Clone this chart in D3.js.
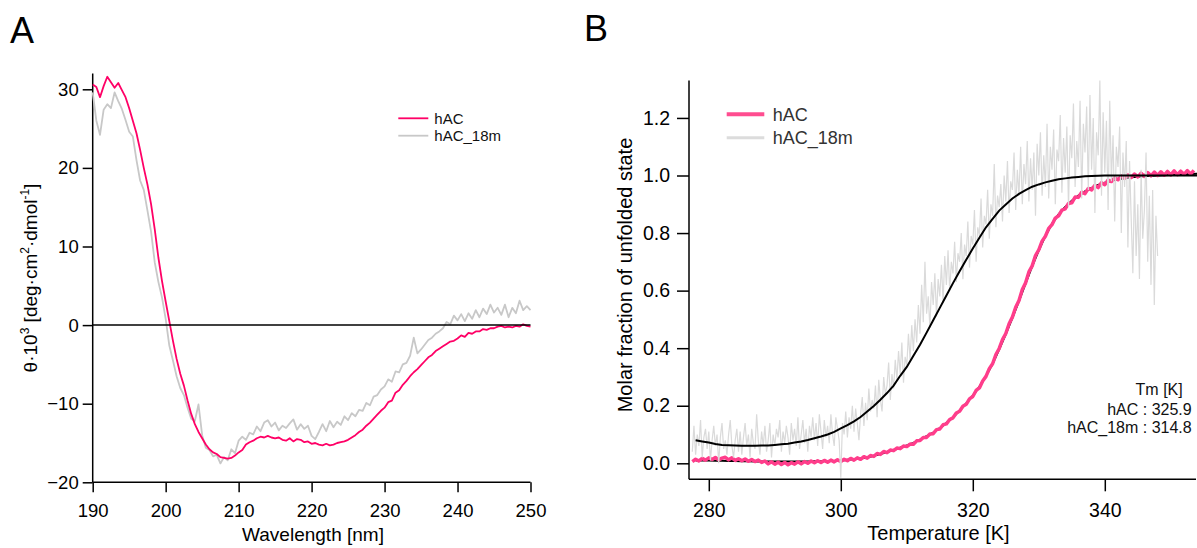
<!DOCTYPE html>
<html><head><meta charset="utf-8">
<script src="https://cdn.jsdelivr.net/npm/d3@7"></script>
<style>
body{margin:0;background:#fff}
svg{display:block}
text{font-family:"Liberation Sans",Arial,Helvetica,sans-serif}
</style>
</head><body>
<svg id="c" width="1197" height="548"></svg>
<script>
// ---------- Panel A data: CD spectra ----------
const cdStart = 190, cdStep = 0.5;   // wavelength grid [nm]
const cd_hAC = [
 30.6,30.3,29.0,30.4,31.6,30.9,30.2,30.8,29.9,29.0,
 27.6,26.0,24.4,22.3,20.0,17.9,15.4,12.2,8.6,5.6,
 3.0,0.5,-2.0,-4.3,-6.2,-7.7,-9.6,-11.3,-12.6,-13.6,
 -14.4,-15.2,-15.8,-16.2,-16.4,-16.8,-16.9,-17.0,-16.9,-16.6,
 -16.2,-15.9,-15.2,-14.9,-14.7,-14.4,-14.2,-14.3,-14.1,-14.3,
 -14.4,-14.3,-14.6,-14.7,-14.4,-14.8,-14.5,-14.6,-14.9,-14.8,
 -15.1,-15.0,-15.2,-15.3,-15.1,-15.3,-15.2,-15.0,-14.9,-14.8,
 -14.6,-14.3,-14.0,-13.6,-13.3,-12.8,-12.4,-11.9,-11.4,-10.9,
 -10.5,-9.8,-9.6,-8.6,-8.3,-7.6,-7.1,-6.5,-6.0,-5.6,
 -5.1,-4.6,-4.1,-3.8,-3.3,-3.0,-2.7,-2.4,-2.1,-2.0,
 -1.7,-1.3,-1.5,-1.0,-1.1,-0.8,-0.8,-0.5,-0.6,-0.4,
 -0.4,-0.2,-0.1,-0.3,-0.2,-0.3,-0.1,-0.2,0.1,-0.1,
 -0.2];
const cd_hAC18m = [
 29.6,26.0,24.2,27.4,28.1,27.6,29.6,28.5,27.5,26.1,
 24.6,24.0,21.0,18.4,17.2,14.6,11.9,8.0,5.5,3.5,
 0.8,-2.6,-4.5,-6.5,-8.0,-8.9,-10.5,-11.9,-12.2,-10.1,
 -14.0,-15.6,-15.9,-16.7,-16.5,-17.6,-16.8,-17.2,-15.8,-16.3,
 -14.7,-14.2,-14.6,-13.7,-13.9,-12.9,-13.5,-12.4,-12.1,-12.9,
 -12.4,-13.4,-12.8,-13.1,-12.5,-12.0,-13.3,-12.6,-13.2,-12.8,
 -14.1,-14.5,-13.6,-12.6,-13.5,-12.2,-13.0,-12.3,-12.7,-11.6,
 -12.1,-11.2,-11.6,-10.8,-10.9,-9.9,-10.2,-9.1,-8.9,-8.2,
 -7.8,-6.9,-7.2,-5.9,-6.0,-5.0,-4.8,-3.9,-1.6,-3.6,
 -3.1,-2.5,-1.9,-1.6,-1.1,-0.8,-0.4,0.4,0.1,1.2,
 0.6,1.4,0.5,1.5,0.8,1.9,1.0,2.1,1.4,2.6,
 1.6,2.2,1.3,2.6,1.0,2.2,1.5,3.1,1.9,2.4,
 1.9];
const cdXTicks = [190,200,210,220,230,240,250];
const cdYTicks = [-20,-10,0,10,20,30];

// ---------- Panel B data: thermal melting ----------
const mStart = 277.5, mStep = 0.5;    // hAC data grid [K]
const melt_hAC = [
 0.006,
 0.014,0.008,0.017,0.011,0.019,0.013,0.020,0.012,0.018,0.021,
 0.012,0.019,0.010,0.016,0.009,0.015,0.007,0.013,0.006,0.011,
 0.003,0.008,-0.002,0.005,-0.003,0.004,-0.004,0.003,-0.005,0.002,
 -0.003,0.005,-0.002,0.006,0.000,0.008,0.002,0.009,0.003,0.010,
 0.004,0.011,0.005,0.012,0.006,0.014,0.009,0.017,0.011,0.019,
 0.014,0.023,0.018,0.027,0.024,0.034,0.031,0.041,0.037,0.046,
 0.044,0.053,0.051,0.060,0.058,0.067,0.066,0.078,0.079,0.090,
 0.090,0.102,0.103,0.117,0.119,0.134,0.137,0.152,0.158,0.175,
 0.181,0.198,0.205,0.224,0.232,0.253,0.262,0.286,0.302,0.329,
 0.346,0.378,0.399,0.430,0.451,0.485,0.508,0.542,0.566,0.604,
 0.627,0.665,0.686,0.722,0.742,0.772,0.789,0.816,0.829,0.852,
 0.860,0.880,0.884,0.903,0.905,0.925,0.924,0.942,0.937,0.955,
 0.950,0.966,0.958,0.975,0.968,0.984,0.979,0.992,0.985,0.998,
 0.990,1.002,0.993,1.005,0.995,1.008,0.997,1.010,0.999,1.012,
 1.000,1.013,1.001,1.014,1.002,1.016,1.003,1.015,1.004,1.017,
 1.005,1.018];
const gStart = 277.5, gStep = 0.25;   // hAC_18m data grid [K]
const melt_hAC18m = [
 0.04,0.13,
 0.03,0.10,0.06,0.15, 0.02,0.09,0.12,0.05, 0.11,0.01,0.08,0.13, 0.06,0.10,0.00,0.09,
 0.14,0.05,0.08,0.03, 0.10,0.15,0.06,0.02, 0.08,0.12,0.04,0.11, 0.03,0.09,0.14,0.06,
 0.10,0.02,0.12,0.07, 0.05,0.17,0.08,0.03, 0.11,0.06,0.13,0.04, 0.08,0.14,0.02,0.10,
 0.06,0.12,0.09,0.15, 0.04,0.11,0.07,0.13, 0.09,0.03,0.14,0.08, 0.12,0.06,0.16,0.05,
 0.10,0.15,0.07,0.12, 0.04,0.13,0.09,0.16, 0.08,0.14,0.06,0.17, 0.11,0.05,0.15,0.09,
 0.13,0.07,0.17,0.10, 0.06,0.16,0.12,0.08, -0.05,0.14,0.10,0.18, 0.09,0.16,0.12,0.20,
 0.11,0.19,0.14,0.08, 0.17,0.23,0.13,0.21, 0.15,0.26,0.18,0.22, 0.19,0.27,0.16,0.29,
 0.22,0.18,0.30,0.24, 0.27,0.35,0.22,0.31, 0.26,0.36,0.29,0.39, 0.31,0.42,0.28,0.37,
 0.34,0.45,0.36,0.48, 0.39,0.50,0.42,0.55, 0.45,0.62,0.49,0.70, 0.52,0.58,0.47,0.63,
 0.55,0.66,0.51,0.64, 0.58,0.69,0.56,0.72, 0.62,0.74,0.60,0.70, 0.66,0.77,0.63,0.73,
 0.70,0.80,0.64,0.76, 0.72,0.84,0.68,0.79, 0.76,0.88,0.70,0.82, 0.79,0.92,0.75,0.86,
 0.83,0.95,0.78,0.90, 0.86,1.04,0.82,0.93, 0.89,0.97,0.84,1.00, 0.91,1.05,0.87,0.98,
 0.95,1.08,0.88,1.02, 0.93,1.10,0.90,1.04, 0.97,1.12,0.91,1.06, 0.95,1.08,0.86,1.11,
 1.00,1.15,0.93,1.07, 0.96,1.18,0.92,1.10, 1.02,1.16,0.90,1.09, 1.05,1.21,0.94,1.13,
 1.01,1.17,0.89,1.14, 1.06,1.25,0.96,1.12, 1.03,1.26,0.92,1.18, 1.08,1.24,0.95,1.28,
 1.02,1.20,0.87,1.15, 1.07,1.33,0.93,1.22, 1.01,1.19,0.88,1.26, 0.98,1.14,0.84,1.10,
 1.03,1.17,0.80,1.08, 0.96,1.12,0.75,1.05, 0.85,0.66,0.98,0.72, 0.90,0.64,1.02,0.78,
 0.88,1.08,0.70,0.93, 0.62,0.95,0.55,0.86,
 0.72];
const fStart = 278, fStep = 1;        // fit curves grid [K]
const fit_hAC = [
 0.010,0.010,0.010,0.009,0.009,0.008,0.008,0.007,0.007,0.006,
 0.006,0.006,0.006,0.006,0.006,0.006,0.006,0.006,0.007,0.007,
 0.008,0.008,0.009,0.012,0.014,0.017,0.020,0.026,0.032,0.039,
 0.046,0.054,0.062,0.071,0.082,0.094,0.107,0.122,0.140,0.160,
 0.183,0.208,0.235,0.266,0.303,0.346,0.396,0.449,0.505,0.564,
 0.625,0.685,0.740,0.790,0.832,0.865,0.891,0.912,0.930,0.945,
 0.957,0.967,0.975,0.982,0.987,0.991,0.994,0.996,0.998,0.999,
 1.000,1.001,1.002,1.003,1.004,1.005,1.006];
const fit_hAC18m = [
 0.080,0.076,0.072,0.067,0.064,0.063,0.062,0.061,0.061,0.061,
 0.062,0.062,0.064,0.066,0.068,0.072,0.076,0.081,0.087,0.093,
 0.100,0.109,0.121,0.133,0.146,0.161,0.180,0.199,0.221,0.244,
 0.270,0.304,0.335,0.374,0.412,0.454,0.497,0.540,0.583,0.626,
 0.667,0.707,0.746,0.784,0.820,0.849,0.878,0.899,0.920,0.936,
 0.949,0.961,0.969,0.976,0.982,0.987,0.990,0.993,0.995,0.997,
 0.998,0.999,1.000,1.000,1.000,1.000,1.000,1.000,1.000,1.000,
 1.000,1.000,1.000,1.000,1.000,1.000,1.000];
const mXTicks = [280,300,320,340];
const mYTicks = [0,0.2,0.4,0.6,0.8,1.0,1.2];
const tmLabels = ["Tm [K]", "hAC : 325.9", "hAC_18m : 314.8"];
const seriesNames = ["hAC", "hAC_18m"];

// ---------- drawing ----------
const svg = d3.select("#c");

function styleAxis(g, fs){
  g.selectAll(".tick line").attr("stroke","#000").attr("stroke-width",1.5);
  g.selectAll(".tick text").attr("fill","#000").style("font-size",fs+"px")
   .style("font-family",'"Liberation Sans",Arial,sans-serif');
}

// ===== Panel A =====
const xA = d3.scaleLinear().domain([190,250]).range([92.7,530.5]);
const yA = d3.scaleLinear().domain([-20,30]).range([482.3,89.3]);

const gAy = svg.append("g").attr("transform",`translate(${xA(190)},0)`)
  .call(d3.axisLeft(yA).tickValues(cdYTicks).tickSize(10).tickPadding(4).tickFormat(d3.format("d")));
gAy.select(".domain").remove(); styleAxis(gAy, 18.5);
const gAx = svg.append("g").attr("transform",`translate(0,${yA(-20)})`)
  .call(d3.axisBottom(xA).tickValues(cdXTicks).tickSize(10).tickFormat(d3.format("d")));
gAx.select(".domain").remove(); styleAxis(gAx, 18.5);
gAx.selectAll(".tick text").attr("dy",null).attr("y",34.7);

svg.append("line").attr("x1",xA(190)).attr("x2",xA(190)).attr("y1",yA(32)).attr("y2",yA(-20))
  .attr("stroke","#000").attr("stroke-width",1.5);
svg.append("line").attr("x1",xA(190)).attr("x2",xA(250)).attr("y1",yA(-20)).attr("y2",yA(-20))
  .attr("stroke","#000").attr("stroke-width",1.5);

const lineA = (start,step) => d3.line().x((d,i)=>xA(start+i*step)).y(d=>yA(d));
svg.append("path").datum(cd_hAC18m).attr("d",lineA(cdStart,cdStep))
  .attr("fill","none").attr("stroke","#c8c8c8").attr("stroke-width",1.8).attr("stroke-linejoin","round");
svg.append("path").datum(cd_hAC).attr("d",lineA(cdStart,cdStep))
  .attr("fill","none").attr("stroke","#ff0066").attr("stroke-width",1.8).attr("stroke-linejoin","round");
// zero line
svg.append("line").attr("x1",xA(190)).attr("x2",xA(250)).attr("y1",yA(0)).attr("y2",yA(0))
  .attr("stroke","#000").attr("stroke-width",1.5);

// legend A
const legA = [{n:seriesNames[0],c:"#ff0066",y:118.3},{n:seriesNames[1],c:"#c8c8c8",y:135.7}];
legA.forEach(d=>{
  svg.append("line").attr("x1",398.3).attr("x2",428.3).attr("y1",d.y).attr("y2",d.y)
    .attr("stroke",d.c).attr("stroke-width",1.8);
  svg.append("text").attr("x",434.3).attr("y",d.y+5.4).style("font-size","15px").attr("fill","#111").text(d.n);
});

// titles A
svg.append("text").attr("x",10).attr("y",42.7).style("font-size","36px").text("A");
svg.append("text").attr("x",313).attr("y",541).attr("text-anchor","middle")
  .style("font-size","19px").text("Wavelength [nm]");
const ytA = svg.append("text").attr("transform","translate(37,278) rotate(-90)")
  .attr("text-anchor","middle").style("font-size","19px");
ytA.append("tspan").text("θ·10");
ytA.append("tspan").attr("dy",-8).style("font-size","12px").text("3");
ytA.append("tspan").attr("dy",8).text(" [deg·cm");
ytA.append("tspan").attr("dy",-8).style("font-size","12px").text("2");
ytA.append("tspan").attr("dy",8).text("·dmol");
ytA.append("tspan").attr("dy",-8).style("font-size","12px").text("-1");
ytA.append("tspan").attr("dy",8).text("]");

// ===== Panel B =====
const xB = d3.scaleLinear().domain([280,340]).range([708.8,1104.8]);
const yB = d3.scaleLinear().domain([0,1]).range([463.3,175.5]);
const bLeft = 689, bRight = 1196, bBottom = 479.3;

const gBy = svg.append("g").attr("transform",`translate(${bLeft},0)`)
  .call(d3.axisLeft(yB).tickValues(mYTicks).tickSize(12).tickPadding(7).tickFormat(d3.format(".1f")));
gBy.select(".domain").remove(); styleAxis(gBy, 19.5);
const gBx = svg.append("g").attr("transform",`translate(0,${bBottom})`)
  .call(d3.axisBottom(xB).tickValues(mXTicks).tickSize(12).tickFormat(d3.format("d")));
gBx.select(".domain").remove(); styleAxis(gBx, 19.5);
gBx.selectAll(".tick text").attr("dy",null).attr("y",37.4);

svg.append("line").attr("x1",bLeft).attr("x2",bLeft).attr("y1",yB(1.33)).attr("y2",bBottom)
  .attr("stroke","#000").attr("stroke-width",1.5);
svg.append("line").attr("x1",bLeft).attr("x2",bRight).attr("y1",bBottom).attr("y2",bBottom)
  .attr("stroke","#000").attr("stroke-width",1.5);

svg.append("defs").append("clipPath").attr("id","clipB").append("rect")
  .attr("x",bLeft+1).attr("y",60).attr("width",bRight-bLeft).attr("height",bBottom-61);
const plotB = svg.append("g").attr("clip-path","url(#clipB)");
const lineB = (start,step) => d3.line().x((d,i)=>xB(start+i*step)).y(d=>yB(d));

plotB.append("path").datum(fit_hAC).attr("d",lineB(fStart,fStep))
  .attr("fill","none").attr("stroke","#000").attr("stroke-width",2);
plotB.append("path").datum(melt_hAC).attr("d",lineB(mStart,mStep))
  .attr("fill","none").attr("stroke","#ff3d8b").attr("stroke-width",3.5).attr("stroke-linejoin","round");
plotB.append("path").datum(melt_hAC18m).attr("d",lineB(gStart,gStep))
  .attr("fill","none").attr("stroke","#dadada").attr("stroke-width",1.2);
plotB.append("path").datum(fit_hAC18m).attr("d",lineB(fStart,fStep))
  .attr("fill","none").attr("stroke","#000").attr("stroke-width",2);

// legend B
const legB = [{n:seriesNames[0],c:"#ff4d90",w:4,y:114.3},{n:seriesNames[1],c:"#dcdcdc",w:3,y:137.7}];
legB.forEach(d=>{
  svg.append("line").attr("x1",726.7).attr("x2",764.3).attr("y1",d.y).attr("y2",d.y)
    .attr("stroke",d.c).attr("stroke-width",d.w);
  svg.append("text").attr("x",772.7).attr("y",d.y+6.4).style("font-size","18px").attr("fill","#333").text(d.n);
});

// Tm annotation
const tmPos = [{x:1182.7,y:395},{x:1191.7,y:415},{x:1191.7,y:433.3}];
tmLabels.forEach((t,i)=>{
  svg.append("text").attr("x",tmPos[i].x).attr("y",tmPos[i].y).attr("text-anchor","end")
    .style("font-size","16px").attr("fill","#111").text(t);
});

// titles B
svg.append("text").attr("x",584).attr("y",41).style("font-size","36px").text("B");
svg.append("text").attr("x",938.5).attr("y",540).attr("text-anchor","middle")
  .style("font-size","20px").text("Temperature [K]");
svg.append("text").attr("transform","translate(632,275) rotate(-90)")
  .attr("text-anchor","middle").style("font-size","20px").text("Molar fraction of unfolded state");
</script>
</body></html>
